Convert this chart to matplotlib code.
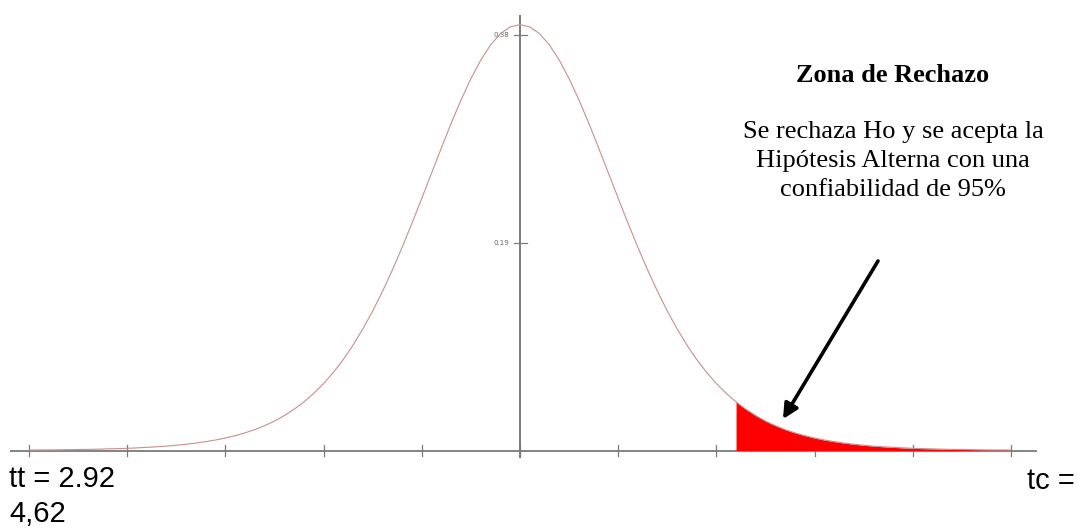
import matplotlib
matplotlib.use("Agg")
import matplotlib.pyplot as plt
import numpy as np

# t values (x axis) and density
t_values = [-5.0, -4.9, -4.8, -4.7, -4.6, -4.5, -4.4, -4.3, -4.2, -4.1,
            -4.0, -3.9, -3.8, -3.7, -3.6, -3.5, -3.4, -3.3, -3.2, -3.1,
            -3.0, -2.9, -2.8, -2.7, -2.6, -2.5, -2.4, -2.3, -2.2, -2.1,
            -2.0, -1.9, -1.8, -1.7, -1.6, -1.5, -1.4, -1.3, -1.2, -1.1,
            -1.0, -0.9, -0.8, -0.7, -0.6, -0.5, -0.4, -0.3, -0.2, -0.1,
            0.0, 0.1, 0.2, 0.3, 0.4, 0.5, 0.6, 0.7, 0.8, 0.9,
            1.0, 1.1, 1.2, 1.3, 1.4, 1.5, 1.6, 1.7, 1.8, 1.9,
            2.0, 2.1, 2.2, 2.3, 2.4, 2.5, 2.6, 2.7, 2.8, 2.9,
            3.0, 3.1, 3.2, 3.3, 3.4, 3.5, 3.6, 3.7, 3.8, 3.9,
            4.0, 4.1, 4.2, 4.3, 4.4, 4.5, 4.6, 4.7, 4.8, 4.9, 5.0]
density = [0.0004, 0.0005, 0.0005, 0.0006, 0.0008, 0.0009, 0.0010, 0.0012, 0.0015, 0.0017,
           0.0020, 0.0024, 0.0029, 0.0034, 0.0040, 0.0048, 0.0057, 0.0068, 0.0081, 0.0096,
           0.0114, 0.0136, 0.0161, 0.0191, 0.0227, 0.0269, 0.0319, 0.0377, 0.0444, 0.0522,
           0.0611, 0.0714, 0.0831, 0.0963, 0.1111, 0.1274, 0.1454, 0.1648, 0.1857, 0.2076,
           0.2304, 0.2535, 0.2766, 0.2991, 0.3203, 0.3397, 0.3566, 0.3704, 0.3807, 0.3870,
           0.3891, 0.3870, 0.3807, 0.3704, 0.3566, 0.3397, 0.3203, 0.2991, 0.2766, 0.2535,
           0.2304, 0.2076, 0.1857, 0.1648, 0.1454, 0.1274, 0.1111, 0.0963, 0.0831, 0.0714,
           0.0611, 0.0522, 0.0444, 0.0377, 0.0319, 0.0269, 0.0227, 0.0191, 0.0161, 0.0136,
           0.0114, 0.0096, 0.0081, 0.0068, 0.0057, 0.0048, 0.0040, 0.0034, 0.0029, 0.0024,
           0.0020, 0.0017, 0.0015, 0.0012, 0.0010, 0.0009, 0.0008, 0.0006, 0.0005, 0.0005, 0.0004]
x_ticks = [-5, -4, -3, -2, -1, 0, 1, 2, 3, 4, 5]
y_ticks = [0.19, 0.38]
y_tick_labels = ["0.19", "0.38"]
reject_from = 2.2

title = "Zona de Rechazo"
body_lines = ["Se rechaza Ho y se acepta la", "Hipótesis Alterna con una", "confiabilidad de 95%"]
left_label = ["tt = 2.92", "4,62"]
right_label = "tc ="

W, H = 1086, 529
fig = plt.figure(figsize=(W / 100, H / 100), dpi=100)
ax = fig.add_axes([0, 0, 1, 1])
ax.set_axis_off()

# pixel mapping: center px 520, 98.2 px per unit; y0 at px 450.5, 1094.7 px per unit
ux, uy = 98.2, 1094.7
x0p, y0p = 520.0, 450.5
ax.set_xlim(-x0p / ux, (W - x0p) / ux)
ax.set_ylim(-(H - y0p) / uy, y0p / uy)

def px(x):
    return (x - x0p) / ux

def py(y):
    return (y0p - y) / uy

axis_col = "#7a7a7a"
# axes lines
ax.plot([px(10), px(1037)], [0, 0], color=axis_col, lw=1.3, zorder=2, solid_capstyle="butt")
ax.plot([0, 0], [py(458), py(15)], color=axis_col, lw=1.4, zorder=2, solid_capstyle="butt")
# x ticks
for t in x_ticks:
    ax.plot([t, t], [py(456), py(445)], color=axis_col, lw=0.9, zorder=2)
# y ticks
for v, lab in zip(y_ticks, y_tick_labels):
    ax.plot([px(514), px(527)], [v, v], color=axis_col, lw=0.9, zorder=2)
    ax.text(px(509), v, lab, fontsize=5, color="#666666", ha="right", va="center",
            family="DejaVu Sans")

tx = np.array(t_values)
dy = np.array(density)
# rejection region
ax.fill_between(tx, 0, dy, where=tx >= reject_from, color="#ff0000", lw=0, zorder=3)
# curve
ax.plot(tx, dy, color="#c79090", lw=0.8, zorder=4)

# annotation text
ax.text(px(893), py(75), title, fontsize=19, fontweight="bold", family="Liberation Serif",
        ha="center", va="center", color="black")
for i, line in enumerate(body_lines):
    ax.text(px(893), py(132 + 29 * i), line, fontsize=19, family="Liberation Serif",
            ha="center", va="center", color="black")

# arrow
ax.annotate("", xy=(px(783), py(419)), xytext=(px(878), py(261)),
            arrowprops=dict(arrowstyle="-|>,head_length=0.9,head_width=0.45", color="black",
                            lw=2.6, shrinkA=0, shrinkB=0), zorder=5)

# bottom labels
ax.text(px(9), py(487), left_label[0], fontsize=21, family="Liberation Sans",
        ha="left", va="baseline", color="black")
ax.text(px(9), py(522), left_label[1], fontsize=21, family="Liberation Sans",
        ha="left", va="baseline", color="black")
ax.text(px(1027), py(489), right_label, fontsize=21, family="Liberation Sans",
        ha="left", va="baseline", color="black")

fig.savefig("out.png", dpi=100, facecolor="white")
